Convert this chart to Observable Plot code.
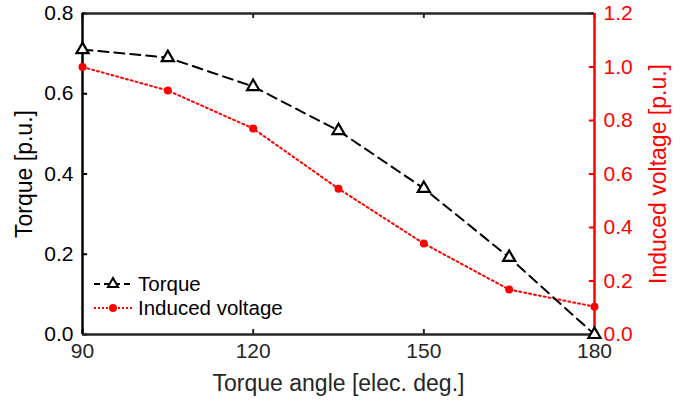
<!DOCTYPE html>
<html><head><meta charset="utf-8">
<script src="https://cdn.jsdelivr.net/npm/d3@7"></script>
<script src="https://cdn.jsdelivr.net/npm/@observablehq/plot@0.6"></script>
<style>
body{margin:0;background:#fff}
#wrap{position:relative;width:691px;height:405px}
#wrap svg{font-family:"Liberation Sans",Arial,sans-serif}
#legend{position:absolute;left:92px;top:272px;font-family:"Liberation Sans",Arial,sans-serif;font-size:20.5px;color:#000}
</style>
</head><body><div id="wrap"><div id="chart"></div><div id="legend"></div></div>
<script>
const angles = [90, 105, 120, 135, 150, 165, 180];
const torque = [0.71, 0.69, 0.618, 0.508, 0.364, 0.192, 0.0];
const voltage = [1.0, 0.912, 0.77, 0.545, 0.34, 0.168, 0.104];
const xTicks = [90, 120, 150, 180];
const torqueTicks = [0, 0.2, 0.4, 0.6, 0.8];
const voltageTicks = [0, 0.2, 0.4, 0.6, 0.8, 1.0, 1.2];
const seriesNames = ["Torque", "Induced voltage"];

const k = 0.8 / 1.2; // voltage -> torque scale
const tData = angles.map((a, i) => ({a, v: torque[i]}));
const vData = angles.map((a, i) => ({a, v: voltage[i] * k}));
const vTickData = voltageTicks.map(v => v * k);
const ink = "#262626";

const chart = Plot.plot({
  width: 691, height: 405,
  marginLeft: 82, marginRight: 97, marginTop: 13, marginBottom: 71,
  x: {domain: [90, 180]},
  y: {domain: [0, 0.8]},
  style: {fontSize: "21px", color: ink, background: "#fff"},
  marks: [
    Plot.axisX({ticks: xTicks, tickSize: 0, tickPadding: 9, fontSize: 21, color: ink,
      label: null}),
    Plot.axisX({ticks: [], tickSize: 0, fontSize: 23, color: ink,
      label: "Torque angle [elec. deg.]", labelAnchor: "center", labelArrow: "none", labelOffset: 56}),
    Plot.axisY({ticks: torqueTicks, tickSize: 0, tickPadding: 9, fontSize: 21, color: "#000",
      tickFormat: d => d.toFixed(1), label: null}),
    Plot.axisY({ticks: [], tickSize: 0, fontSize: 23, color: "#000",
      label: "Torque [p.u.]", labelAnchor: "center", labelArrow: "none", labelOffset: 67}),
    Plot.axisY({anchor: "right", ticks: vTickData, tickSize: 0, tickPadding: 9, fontSize: 21, color: "red",
      tickFormat: d => (d / k).toFixed(1), label: null}),
    Plot.axisY({anchor: "right", ticks: [], tickSize: 0, fontSize: 23, color: "red",
      label: "Induced voltage [p.u.]", labelAnchor: "center", labelArrow: "none", labelOffset: 71}),
    // inward ticks
    Plot.ruleX(xTicks, {y1: 0, y2: 0.0125, stroke: ink, strokeWidth: 2}),
    Plot.ruleX(xTicks, {y1: 0.8, y2: 0.7875, stroke: ink, strokeWidth: 2}),
    Plot.ruleY(torqueTicks, {x1: 90, x2: 90.9, stroke: "#000", strokeWidth: 2}),
    Plot.ruleY(vTickData, {x1: 179.1, x2: 180, stroke: "red", strokeWidth: 2}),
    // box
    Plot.ruleY([0.8], {stroke: ink, strokeWidth: 2.5}),
    Plot.ruleY([0], {stroke: ink, strokeWidth: 2.5}),
    Plot.ruleX([90], {stroke: "#000", strokeWidth: 2.5}),
    Plot.ruleX([180], {stroke: "red", strokeWidth: 2.5}),
    // series
    Plot.line(vData, {x: "a", y: "v", stroke: "red", strokeWidth: 2, strokeDasharray: "2,3"}),
    Plot.dot(vData, {x: "a", y: "v", r: 4, fill: "red", stroke: "none"}),
    Plot.line(tData, {x: "a", y: "v", stroke: "#000", strokeWidth: 2, strokeDasharray: "10,6"}),
    Plot.dot(tData, {x: "a", y: "v", symbol: "triangle", r: 4.5, fill: "#fff", stroke: "#000", strokeWidth: 2.2})
  ]
});
document.getElementById("chart").append(chart);

// legend
const leg = d3.select("#legend");
const rows = [
  {name: seriesNames[0], stroke: "#000", dash: "6,4", sym: "tri"},
  {name: seriesNames[1], stroke: "red", dash: "2,2", sym: "dot"}
];
rows.forEach(r => {
  const row = leg.append("div").style("display", "flex").style("align-items", "center").style("height", "24px");
  const s = row.append("svg").attr("width", 42).attr("height", 20).style("margin-right", "4px");
  s.append("line").attr("x1", 2).attr("x2", 40).attr("y1", 10).attr("y2", 10)
    .attr("stroke", r.stroke).attr("stroke-width", 2).attr("stroke-dasharray", r.dash);
  if (r.sym === "tri") {
    s.append("path").attr("d", d3.symbol(d3.symbolTriangle, 45)()).attr("transform", "translate(21,10)")
      .attr("fill", "#fff").attr("stroke", "#000").attr("stroke-width", 2);
  } else {
    s.append("circle").attr("cx", 21).attr("cy", 10).attr("r", 4).attr("fill", "red");
  }
  row.append("span").text(r.name);
});
</script>
</body></html>
